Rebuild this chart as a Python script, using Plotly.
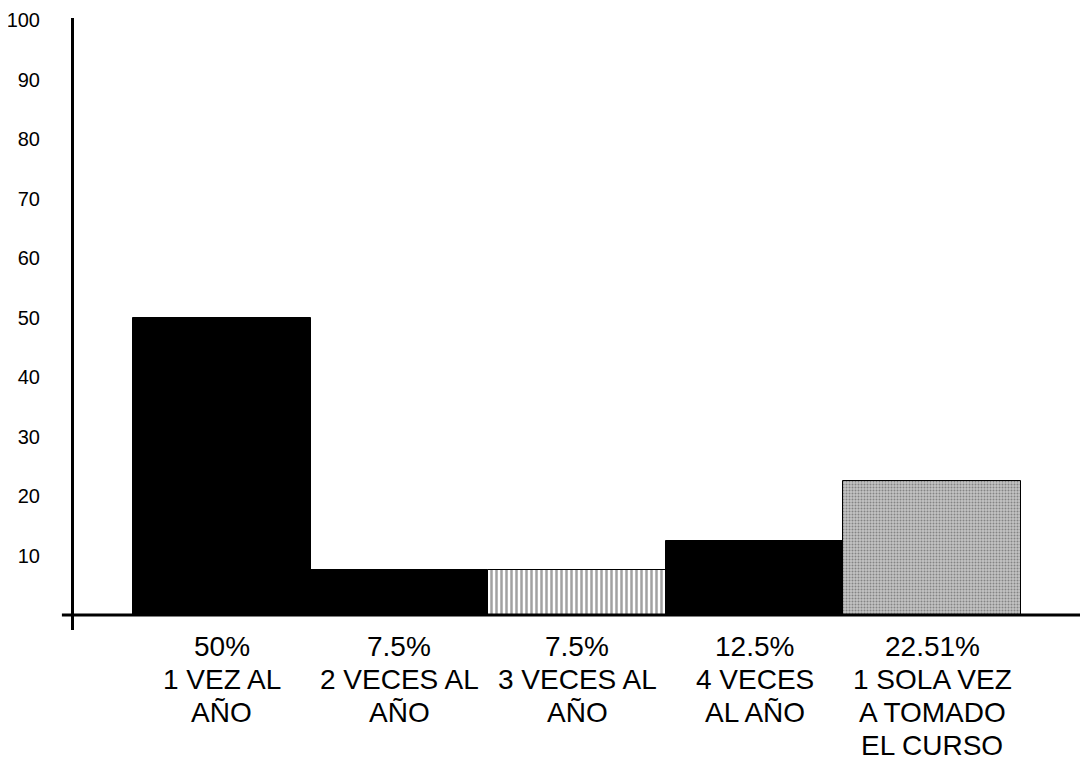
import plotly.graph_objects as go

# Data
categories = ["c1", "c2", "c3", "c4", "c5"]
values = [50, 7.5, 7.5, 12.5, 22.51]
label_lines = [
    ["50%", "1 VEZ AL", "AÑO"],
    ["7.5%", "2 VECES AL", "AÑO"],
    ["7.5%", "3 VECES AL", "AÑO"],
    ["12.5%", "4 VECES", "AL AÑO"],
    ["22.51%", "1 SOLA VEZ", "A TOMADO", "EL CURSO"],
]
y_tickvals = [10, 20, 30, 40, 50, 60, 70, 80, 90, 100]
y_ticktext = ["10", "20", "30", "40", "50", "60", "70", "80", "90", "100"]

FONT = "Liberation Sans, Arial, Helvetica, sans-serif"

pattern_shapes = ["", "", "|", "", "."]
pattern_sizes = [8, 8, 5, 8, 3]
pattern_solidity = [0.5, 0.5, 0.5, 0.5, 0.35]
bar_colors = ["black", "black", "white", "black", "#c4c4c4"]

x_idx = list(range(len(categories)))

fig = go.Figure()
fig.add_trace(go.Bar(
    x=x_idx,
    y=values,
    width=1.0,
    marker=dict(
        color=bar_colors,
        line=dict(color="black", width=1),
        pattern=dict(
            shape=pattern_shapes,
            fgcolor="black",
            bgcolor=bar_colors,
            size=pattern_sizes,
            solidity=pattern_solidity,
            fillmode="overlay",
        ),
    ),
    hoverinfo="skip",
))

annotations = []
for i, lines in enumerate(label_lines):
    for k, txt in enumerate(lines):
        annotations.append(dict(
            x=i, y=0, xref="x", yref="paper",
            text=txt, showarrow=False,
            xanchor="center", yanchor="middle",
            yshift=-16 - 33 * k,
            font=dict(family=FONT, size=28, color="black"),
        ))

fig.update_layout(
    width=1088, height=771,
    margin=dict(l=66, r=14, t=10, b=149, autoexpand=False),
    paper_bgcolor="white", plot_bgcolor="white",
    showlegend=False,
    bargap=0,
    annotations=annotations,
    xaxis=dict(
        range=[-0.832, 4.843], automargin=False,
        showticklabels=False, showgrid=False, zeroline=False,
        showline=False, ticks="",
    ),
    yaxis=dict(
        range=[-2.52, 100.34], automargin=False,
        tickvals=y_tickvals, ticktext=y_ticktext,
        showgrid=False, zeroline=False,
        showline=True, linecolor="black", linewidth=3,
        ticks="", ticklabelstandoff=27,
        tickfont=dict(family=FONT, size=20, color="black"),
    ),
    shapes=[dict(
        type="line", xref="paper", yref="y",
        x0=-0.012, x1=1.0, y0=0, y1=0,
        line=dict(color="black", width=3),
    )],
)

fig.write_html("out.html")
